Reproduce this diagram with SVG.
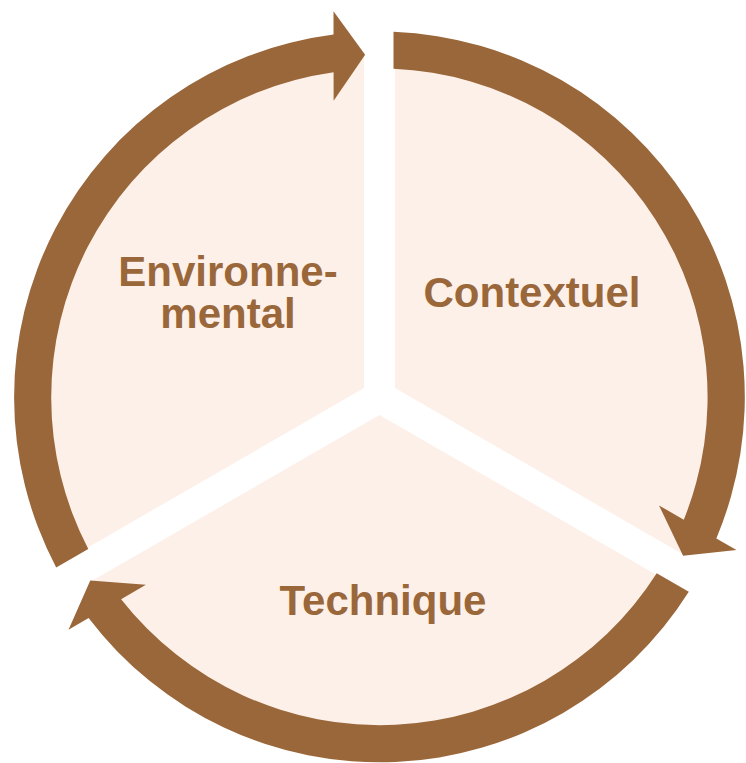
<svg xmlns="http://www.w3.org/2000/svg" width="746" height="763" viewBox="0 0 746 763">
  <style>
    .seg { fill: #FDF0E9; stroke: none; }
    .arrow { fill: #9A673A; stroke: none; }
    .label { fill: #9A673A; font-family: "Liberation Sans", Arial, sans-serif; font-weight: bold; font-size: 42px; text-anchor: middle; }
  </style>
  <defs>
    <path id="sector" d="M 15.5,-8.95 L 15.5,-342.65 A 343 343 0 0 1 304.48,157.9 Z"/>
    <path id="circArrow" d="M 14,-365.23 A 365.5 365.5 0 0 1 336.85,141.4 L 357,153 L 303.6,158.7 L 279.5,108.4 L 304.3,122.67 A 328.5 328.5 0 0 0 14,-328.2 Z"/>
  </defs>
  <rect width="746" height="763" fill="#FFFFFF"/>
  <g id="node-contextuel">
    <use href="#sector" class="seg" transform="translate(379.5,397)"/>
    <text class="label" x="532" y="307">Contextuel</text>
  </g>
  <g id="node-technique">
    <use href="#sector" class="seg" transform="translate(379.5,397) rotate(120)"/>
    <text class="label" x="383" y="615">Technique</text>
  </g>
  <g id="node-environnemental">
    <use href="#sector" class="seg" transform="translate(379.5,397) rotate(240)"/>
    <text class="label" x="228" y="286">Environne-</text>
    <text class="label" x="228" y="328">mental</text>
  </g>
  <g id="connectors">
    <use href="#circArrow" class="arrow" transform="translate(379.5,397)"/>
    <use href="#circArrow" class="arrow" transform="translate(379.5,397) rotate(120)"/>
    <use href="#circArrow" class="arrow" transform="translate(379.5,397) rotate(240)"/>
  </g>
</svg>
